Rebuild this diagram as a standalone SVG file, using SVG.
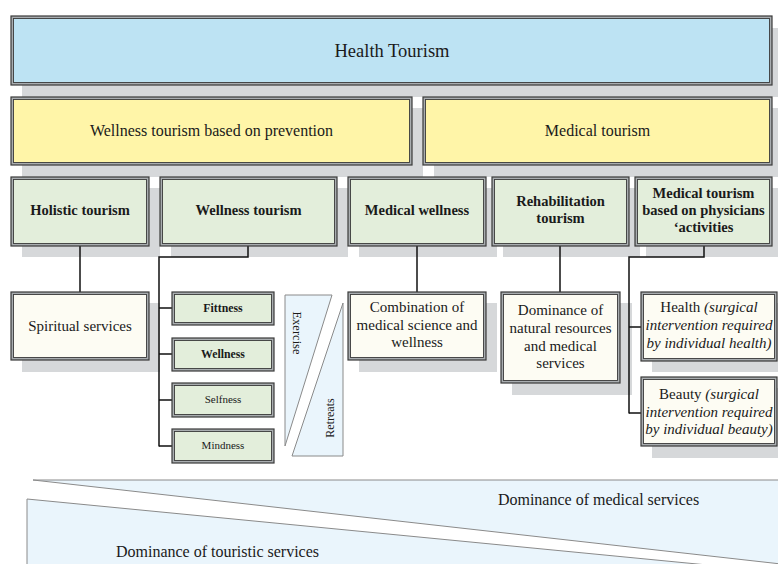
<svg xmlns="http://www.w3.org/2000/svg" width="778" height="564" viewBox="0 0 778 564">
  <style>
    text { font-family: "Liberation Serif", "Times New Roman", serif; fill: #1a1a1a; }
    .sh { fill: #d6d8da; }
    .o { stroke: #3a3a3a; stroke-width: 1.2; fill: #a9adb0; }
    .i { stroke: #3a3a3a; stroke-width: 0.9; }
    .blue { fill: #bde3f3; }
    .yel { fill: #fff5a8; }
    .grn { fill: #e3eedb; }
    .crm { fill: #fdfcf3; }
    .t18 { font-size: 18.5px; text-anchor: middle; }
    .t16 { font-size: 16px; text-anchor: middle; }
    .t15 { font-size: 15px; text-anchor: middle; }
    .b14 { font-size: 14.5px; font-weight: bold; text-anchor: middle; }
    .b12 { font-size: 11.8px; font-weight: bold; text-anchor: middle; }
    .t11 { font-size: 11px; text-anchor: middle; }
    .it { font-style: italic; }
    .con { fill: none; stroke: #111; stroke-width: 1.5; }
    .tri { fill: #eaf5fc; stroke: #8a8a8a; stroke-width: 1; }
  </style>

  <!-- drop shadows -->
  <g id="shadows">
    <rect class="sh" x="22" y="28" width="761" height="69"/>
    <rect class="sh" x="22" y="108" width="401" height="69"/>
    <rect class="sh" x="434" y="108" width="349" height="69"/>
    <rect class="sh" x="22" y="188" width="138" height="69"/>
    <rect class="sh" x="171" y="188" width="177" height="69"/>
    <rect class="sh" x="359" y="188" width="138" height="69"/>
    <rect class="sh" x="503" y="188" width="137" height="69"/>
    <rect class="sh" x="646" y="188" width="137" height="69"/>
    <rect class="sh" x="22" y="303" width="138" height="69"/>
    <rect class="sh" x="359" y="303" width="138" height="69"/>
    <rect class="sh" x="512" y="303" width="120" height="92"/>
    <rect class="sh" x="652" y="303" width="137" height="69"/>
    <rect class="sh" x="652" y="388" width="137" height="70"/>
  </g>

  <!-- connectors -->
  <g id="connectors">
    <path class="con" d="M80 246 V292"/>
    <path class="con" d="M248 246 V257 H159 V446.5"/>
    <path class="con" d="M159 308 H172 M159 354 H172 M159 400 H172 M159 446 H172"/>
    <path class="con" d="M417 246 V292"/>
    <path class="con" d="M560 246 V292"/>
    <path class="con" d="M704 246 V257 H629 V413.5"/>
    <path class="con" d="M629 327 H641 M629 413 H641"/>
  </g>

  <g id="health-tourism">
    <rect class="o" x="11" y="16" width="761" height="69"/>
    <rect class="i blue" x="13.5" y="18.5" width="756" height="64"/>
    <text class="t18" x="392" y="57">Health Tourism</text>
  </g>

  <g id="wellness-prevention">
    <rect class="o" x="11" y="97" width="401" height="68"/>
    <rect class="i yel" x="13.5" y="99.5" width="396" height="63"/>
    <text class="t16" x="211.5" y="136">Wellness tourism based on prevention</text>
  </g>

  <g id="medical-tourism">
    <rect class="o" x="423" y="97" width="349" height="68"/>
    <rect class="i yel" x="425.5" y="99.5" width="344" height="63"/>
    <text class="t16" x="597.5" y="136">Medical tourism</text>
  </g>

  <g id="holistic-tourism">
    <rect class="o" x="11" y="177" width="138" height="69"/>
    <rect class="i grn" x="13.5" y="179.5" width="133" height="64"/>
    <text class="b14" x="80" y="215">Holistic tourism</text>
  </g>

  <g id="wellness-tourism">
    <rect class="o" x="160" y="177" width="177" height="69"/>
    <rect class="i grn" x="162.5" y="179.5" width="172" height="64"/>
    <text class="b14" x="248.5" y="215">Wellness tourism</text>
  </g>

  <g id="medical-wellness">
    <rect class="o" x="348" y="177" width="138" height="69"/>
    <rect class="i grn" x="350.5" y="179.5" width="133" height="64"/>
    <text class="b14" x="417" y="215">Medical wellness</text>
  </g>

  <g id="rehabilitation-tourism">
    <rect class="o" x="492" y="177" width="137" height="69"/>
    <rect class="i grn" x="494.5" y="179.5" width="132" height="64"/>
    <text class="b14" x="560.5" y="206">Rehabilitation</text>
    <text class="b14" x="560.5" y="223">tourism</text>
  </g>

  <g id="physicians-tourism">
    <rect class="o" x="635" y="177" width="137" height="69"/>
    <rect class="i grn" x="637.5" y="179.5" width="132" height="64"/>
    <text class="b14" x="703.5" y="198">Medical tourism</text>
    <text class="b14" x="703.5" y="215">based on physicians</text>
    <text class="b14" x="703.5" y="232">‘activities</text>
  </g>

  <g id="spiritual-services">
    <rect class="o" x="11" y="292" width="138" height="68"/>
    <rect class="i crm" x="13.5" y="294.5" width="133" height="63"/>
    <text class="t15" x="80" y="331">Spiritual services</text>
  </g>

  <g id="fitness">
    <rect class="o" x="172" y="292" width="102" height="33"/>
    <rect class="i grn" x="174.5" y="294.5" width="97" height="28"/>
    <text class="b12" x="223" y="312">Fittness</text>
  </g>

  <g id="wellness">
    <rect class="o" x="172" y="338" width="102" height="33"/>
    <rect class="i grn" x="174.5" y="340.5" width="97" height="28"/>
    <text class="b12" x="223" y="358">Wellness</text>
  </g>

  <g id="selfness">
    <rect class="o" x="172" y="383" width="102" height="34"/>
    <rect class="i grn" x="174.5" y="385.5" width="97" height="29"/>
    <text class="t11" x="223" y="403">Selfness</text>
  </g>

  <g id="mindness">
    <rect class="o" x="172" y="429" width="102" height="34"/>
    <rect class="i grn" x="174.5" y="431.5" width="97" height="29"/>
    <text class="t11" x="223" y="449">Mindness</text>
  </g>

  <g id="exercise">
    <polygon class="tri" points="285,295 332,295 285,446"/>
    <text class="t11" style="font-size:12.5px" transform="translate(292.5,333) rotate(90)">Exercise</text>
  </g>

  <g id="retreats">
    <polygon class="tri" points="343,303 343,456 292,456"/>
    <text class="t11" style="font-size:12px" transform="translate(334,418) rotate(-90)">Retreats</text>
  </g>

  <g id="combination">
    <rect class="o" x="348" y="292" width="138" height="68"/>
    <rect class="i crm" x="350.5" y="294.5" width="133" height="63"/>
    <text class="t15" x="417" y="312">Combination of</text>
    <text class="t15" x="417" y="330">medical science and</text>
    <text class="t15" x="417" y="347">wellness</text>
  </g>

  <g id="natural-resources">
    <rect class="o" x="501" y="292" width="119" height="91"/>
    <rect class="i crm" x="503.5" y="294.5" width="114" height="86"/>
    <text class="t15" x="560.5" y="315">Dominance of</text>
    <text class="t15" x="560.5" y="333">natural resources</text>
    <text class="t15" x="560.5" y="351">and medical</text>
    <text class="t15" x="560.5" y="368">services</text>
  </g>

  <g id="health-surgery">
    <rect class="o" x="641" y="292" width="136" height="69"/>
    <rect class="i crm" x="643.5" y="294.5" width="131" height="64"/>
    <text class="t15" x="709" y="312">Health <tspan class="it">(surgical</tspan></text>
    <text class="t15 it" x="709" y="330">intervention required</text>
    <text class="t15 it" x="709" y="348">by individual health)</text>
  </g>

  <g id="beauty-surgery">
    <rect class="o" x="641" y="377" width="136" height="69"/>
    <rect class="i crm" x="643.5" y="379.5" width="131" height="64"/>
    <text class="t15" x="709" y="399">Beauty <tspan class="it">(surgical</tspan></text>
    <text class="t15 it" x="709" y="417">intervention required</text>
    <text class="t15 it" x="709" y="434">by individual beauty)</text>
  </g>

  <!-- service dominance wedges -->
  <g id="medical-dominance">
    <polygon class="tri" points="33,480 790,480 790,565"/>
    <text class="t16" x="598.5" y="505">Dominance of medical services</text>
  </g>

  <g id="touristic-dominance">
    <polygon class="tri" points="27,499 790,573 790,600 27,600"/>
    <text class="t16" x="217.5" y="557">Dominance of touristic services</text>
  </g>
</svg>
